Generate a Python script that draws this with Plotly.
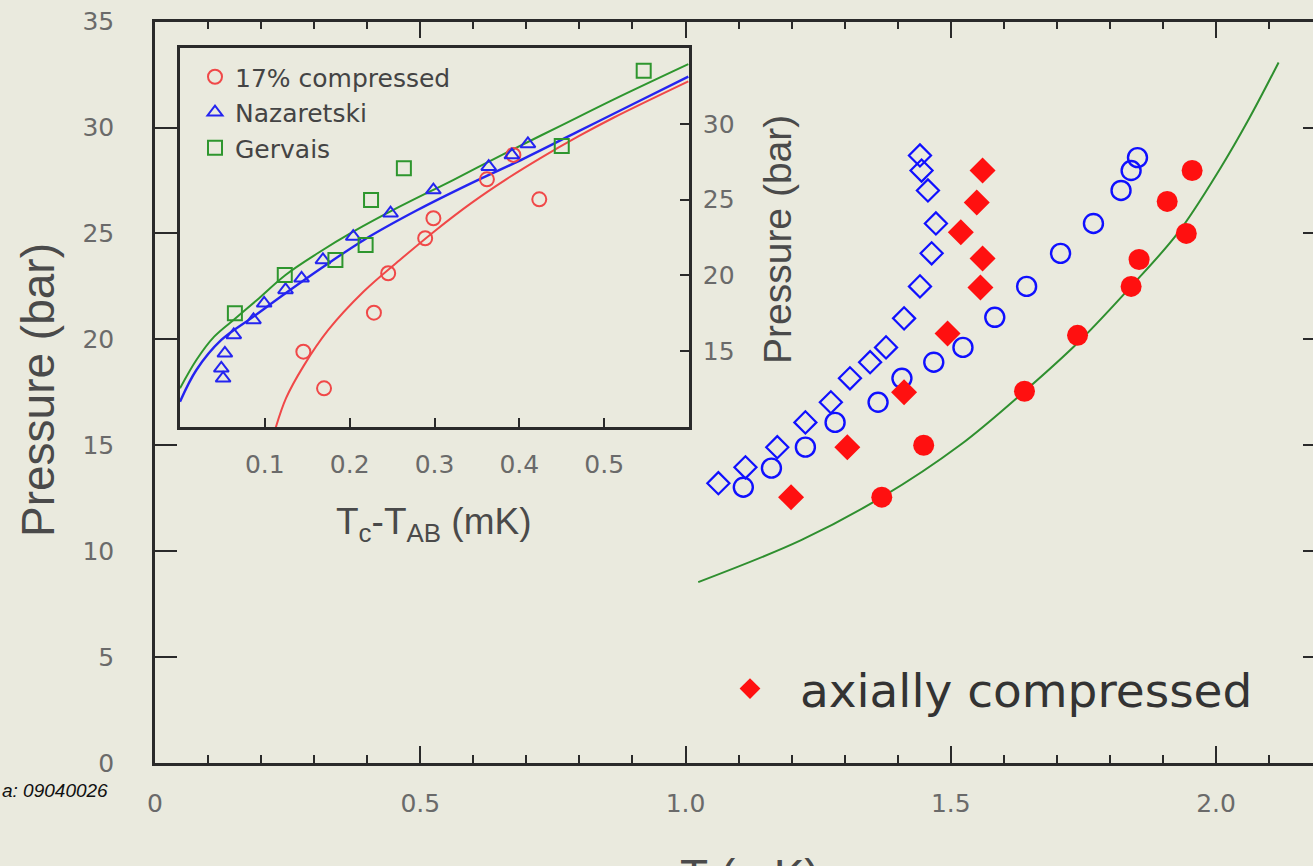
import plotly.graph_objects as go

W, H = 1313, 866
BG = "#eaeade"
AXIS = "#2a2a2a"
TICKFONT = dict(family="DejaVu Sans", size=25, color="#6a6a6a")
TITLEFONT_COLOR = "#4a4a4a"

# ---- main panel: transition temperatures vs pressure ----
diam_open_T = [1.062, 1.113, 1.173, 1.226, 1.274, 1.310, 1.348, 1.378, 1.412, 1.442, 1.464, 1.472, 1.457, 1.445, 1.442]
diam_open_P = [13.21, 13.96, 14.91, 16.08, 17.03, 18.16, 18.92, 19.62, 20.99, 22.50, 24.06, 25.47, 27.03, 27.97, 28.68]

circ_open_T = [1.109, 1.162, 1.226, 1.282, 1.363, 1.408, 1.468, 1.523, 1.583, 1.643, 1.707, 1.769, 1.821, 1.840, 1.852]
circ_open_P = [13.02, 13.92, 14.91, 16.08, 17.03, 18.16, 18.92, 19.62, 21.04, 22.50, 24.06, 25.47, 27.03, 27.97, 28.58]

axial_diam_T = [1.199, 1.305, 1.412, 1.494, 1.556, 1.560, 1.519, 1.549, 1.560]
axial_diam_P = [12.55, 14.91, 17.50, 20.28, 22.45, 23.82, 25.05, 26.46, 27.97]

axial_circ_T = [1.370, 1.449, 1.639, 1.739, 1.840, 1.855, 1.944, 1.908, 1.955]
axial_circ_P = [12.55, 15.00, 17.55, 20.19, 22.50, 23.77, 25.00, 26.51, 27.97]

bulk_T = [1.024, 1.218, 1.370, 1.517, 1.639, 1.742, 1.840, 1.929, 2.008, 2.063, 2.118]
bulk_P = [8.54, 10.52, 12.55, 15.00, 17.55, 19.90, 22.50, 25.05, 28.07, 30.45, 33.07]

main_xticks = [0, 0.5, 1.0, 1.5, 2.0]
main_xticktext = ["0", "0.5", "1.0", "1.5", "2.0"]
main_yticks = [0, 5, 10, 15, 20, 25, 30, 35]

# ---- inset: Tc - TAB vs pressure ----
comp_dT = [0.1698, 0.1454, 0.2286, 0.2454, 0.2890, 0.2987, 0.4235, 0.3618, 0.3930]
comp_P = [12.55, 14.97, 17.54, 20.14, 22.45, 23.77, 25.02, 26.34, 27.95]

naz_dT = [0.0508, 0.0487, 0.0529, 0.0634, 0.0866, 0.0992, 0.1244, 0.1433, 0.1685, 0.2042, 0.2482, 0.2987, 0.3639, 0.3912, 0.4101]
naz_P = [13.21, 13.87, 14.86, 16.07, 17.06, 18.16, 19.04, 19.81, 21.02, 22.56, 24.10, 25.63, 27.17, 27.94, 28.67]

gerv_dT = [0.0647, 0.1235, 0.1832, 0.2188, 0.2252, 0.2639, 0.4500, 0.5466]
gerv_P = [17.50, 20.03, 21.02, 22.01, 24.97, 27.06, 28.54, 33.50]

comp_fit_dT = [0.112, 0.125, 0.1454, 0.1748, 0.2168, 0.2588, 0.3008, 0.3429, 0.3849, 0.4269, 0.4689, 0.5109, 0.5992]
comp_fit_P = [9.8, 11.9, 14.0, 16.4, 18.95, 21.0, 22.95, 24.75, 26.35, 27.8, 29.15, 30.4, 32.8]

naz_fit_dT = [0.0, 0.0193, 0.0487, 0.0866, 0.1244, 0.1664, 0.2168, 0.2799, 0.3429, 0.4059, 0.4689, 0.5319, 0.5992]
naz_fit_P = [11.67, 13.76, 15.74, 17.28, 18.82, 20.47, 22.34, 24.31, 26.07, 27.72, 29.48, 31.24, 33.11]

gerv_fit_dT = [0.0, 0.0193, 0.0403, 0.0655, 0.0908, 0.1244, 0.1622, 0.2042, 0.2588, 0.3219, 0.3849, 0.4479, 0.5109, 0.5992]
gerv_fit_P = [12.55, 14.42, 15.96, 17.17, 18.38, 20.03, 21.46, 22.88, 24.53, 26.29, 28.1, 29.85, 31.6, 33.94]

inset_xticks = [0.1, 0.2, 0.3, 0.4, 0.5]
inset_yticks = [15, 20, 25, 30]

RED = "#ff1010"
BLUE = "#1010ff"
GREEN = "#2f8f2f"
IN_RED = "#f04848"
IN_BLUE = "#2424f0"
IN_GREEN = "#2e962e"

fig = go.Figure()

# main panel traces
fig.add_trace(go.Scatter(x=bulk_T, y=bulk_P, mode="lines", line=dict(color=GREEN, width=2, shape="spline"),
                         showlegend=False, xaxis="x", yaxis="y"))
fig.add_trace(go.Scatter(x=diam_open_T, y=diam_open_P, mode="markers",
                         marker=dict(symbol="diamond-open", size=17, color=BLUE, line=dict(width=2.2, color=BLUE)),
                         showlegend=False, xaxis="x", yaxis="y"))
fig.add_trace(go.Scatter(x=circ_open_T, y=circ_open_P, mode="markers",
                         marker=dict(symbol="circle-open", size=19, color=BLUE, line=dict(width=2.4, color=BLUE)),
                         showlegend=False, xaxis="x", yaxis="y"))
fig.add_trace(go.Scatter(x=axial_diam_T, y=axial_diam_P, mode="markers", name="\u00a0\u00a0axially compressed",
                         marker=dict(symbol="diamond", size=20, color=RED),
                         legend="legend2", showlegend=True, xaxis="x", yaxis="y"))
fig.add_trace(go.Scatter(x=axial_circ_T, y=axial_circ_P, mode="markers",
                         marker=dict(symbol="circle", size=21, color=RED),
                         showlegend=False, xaxis="x", yaxis="y"))
# carrier for the right-hand tick marks
fig.add_trace(go.Scatter(x=[], y=[], xaxis="x", yaxis="y3", showlegend=False))

# inset traces
fig.add_trace(go.Scatter(x=comp_fit_dT, y=comp_fit_P, mode="lines", line=dict(color=IN_RED, width=2, shape="spline"),
                         showlegend=False, xaxis="x2", yaxis="y2"))
fig.add_trace(go.Scatter(x=gerv_fit_dT, y=gerv_fit_P, mode="lines", line=dict(color=IN_GREEN, width=2, shape="spline"),
                         showlegend=False, xaxis="x2", yaxis="y2"))
fig.add_trace(go.Scatter(x=naz_fit_dT, y=naz_fit_P, mode="lines", line=dict(color=IN_BLUE, width=2.4, shape="spline"),
                         showlegend=False, xaxis="x2", yaxis="y2"))
fig.add_trace(go.Scatter(x=comp_dT, y=comp_P, mode="markers", name="17% compressed",
                         marker=dict(symbol="circle-open", size=14, color=IN_RED, line=dict(width=2, color=IN_RED)),
                         legend="legend", xaxis="x2", yaxis="y2"))
fig.add_trace(go.Scatter(x=naz_dT, y=naz_P, mode="markers", name="Nazaretski",
                         marker=dict(symbol="triangle-up-open", size=13, color=IN_BLUE, line=dict(width=2, color=IN_BLUE)),
                         legend="legend", xaxis="x2", yaxis="y2"))
fig.add_trace(go.Scatter(x=gerv_dT, y=gerv_P, mode="markers", name="Gervais",
                         marker=dict(symbol="square-open", size=14, color=IN_GREEN, line=dict(width=2, color=IN_GREEN)),
                         legend="legend", xaxis="x2", yaxis="y2"))


def px_x(p):
    return p / W


def px_y(p):
    return (H - p) / H


main_left, main_bottom, main_top = 155, 763, 21.6
px_per_mK = 530.5
inset_left, inset_right, inset_top, inset_bottom = 180, 689, 48, 427

fig.update_layout(
    width=W, height=H,
    margin=dict(l=0, r=0, t=0, b=0, autoexpand=False),
    paper_bgcolor=BG, plot_bgcolor=BG,
    font=dict(family="Liberation Sans", color="#444"),
    xaxis=dict(domain=[px_x(main_left), 1.0], range=[0, (W - main_left) / px_per_mK], anchor="y", automargin=False,
               tickvals=main_xticks, ticktext=main_xticktext, ticks="inside", ticklen=17, tickwidth=2,
               tickcolor=AXIS, showline=True, linewidth=2.5, linecolor=AXIS, mirror="ticks",
               minor=dict(dtick=0.1, tick0=0, ticks="inside", ticklen=8, tickwidth=2, tickcolor=AXIS),
               showgrid=False, zeroline=False, tickfont=TICKFONT, ticklabelstandoff=16),
    yaxis=dict(domain=[px_y(main_bottom), px_y(main_top)], range=[0, 35], anchor="x", automargin=False,
               tickvals=main_yticks, ticks="inside", ticklen=22, tickwidth=2, tickcolor=AXIS,
               showline=True, linewidth=2.5, linecolor=AXIS, showgrid=False, zeroline=False,
               tickfont=TICKFONT, ticklabelstandoff=33),
    yaxis3=dict(overlaying="y", side="right", anchor="free", position=1.0, range=[0, 35], automargin=False,
                tickvals=[5, 10, 15, 20, 25, 30], ticks="inside", ticklen=10, tickwidth=2, tickcolor=AXIS,
                showticklabels=False, showline=False, showgrid=False, zeroline=False),
    xaxis2=dict(domain=[px_x(inset_left), px_x(inset_right)], range=[0, 0.6], anchor="y2", automargin=False,
                tickvals=inset_xticks, ticks="inside", ticklen=9, tickwidth=2, tickcolor=AXIS,
                showline=True, linewidth=2.5, linecolor=AXIS, mirror=True, showgrid=False, zeroline=False,
                tickfont=TICKFONT, ticklabelstandoff=13),
    yaxis2=dict(domain=[px_y(inset_bottom), px_y(inset_top)], range=[10, 35], anchor="x2", side="right",
                automargin=False,
                tickvals=inset_yticks, ticks="inside", ticklen=9, tickwidth=2, tickcolor=AXIS,
                showline=True, linewidth=2.5, linecolor=AXIS, mirror=True, showgrid=False, zeroline=False,
                tickfont=TICKFONT, ticklabelstandoff=6),
    legend=dict(x=px_x(195), y=px_y(54), xanchor="left", yanchor="top", bgcolor="rgba(0,0,0,0)",
                font=dict(family="DejaVu Sans", size=25, color="#444"), tracegroupgap=0,
                itemwidth=30),
    legend2=dict(x=px_x(730), y=px_y(689), xanchor="left", yanchor="middle", bgcolor="rgba(0,0,0,0)",
                 font=dict(family="DejaVu Sans", size=47, color="#333")),
    annotations=[
        dict(text="Pressure (bar)", x=px_x(38), y=px_y(390), xref="paper", yref="paper", showarrow=False,
             textangle=-90, font=dict(size=46, color=TITLEFONT_COLOR), xanchor="center", yanchor="middle"),
        dict(text="T (mK)", x=px_x(750), y=px_y(876), xref="paper", yref="paper", showarrow=False,
             font=dict(size=46, color=TITLEFONT_COLOR), xanchor="center", yanchor="middle"),
        dict(text="Pressure (bar)", x=px_x(778), y=px_y(240), xref="paper", yref="paper", showarrow=False,
             textangle=-90, font=dict(size=39, color=TITLEFONT_COLOR), xanchor="center", yanchor="middle"),
        dict(text="T<sub>c</sub>-T<sub>AB</sub> (mK)", x=px_x(433), y=px_y(524), xref="paper", yref="paper",
             showarrow=False, font=dict(size=37, color=TITLEFONT_COLOR), xanchor="center", yanchor="middle"),
        dict(text="<i>a: 09040026</i>", x=px_x(110), y=px_y(790), xref="paper", yref="paper", showarrow=False,
             font=dict(size=19, color="#111"), xanchor="right", yanchor="middle"),
    ],
)

fig.write_html("out.html")
